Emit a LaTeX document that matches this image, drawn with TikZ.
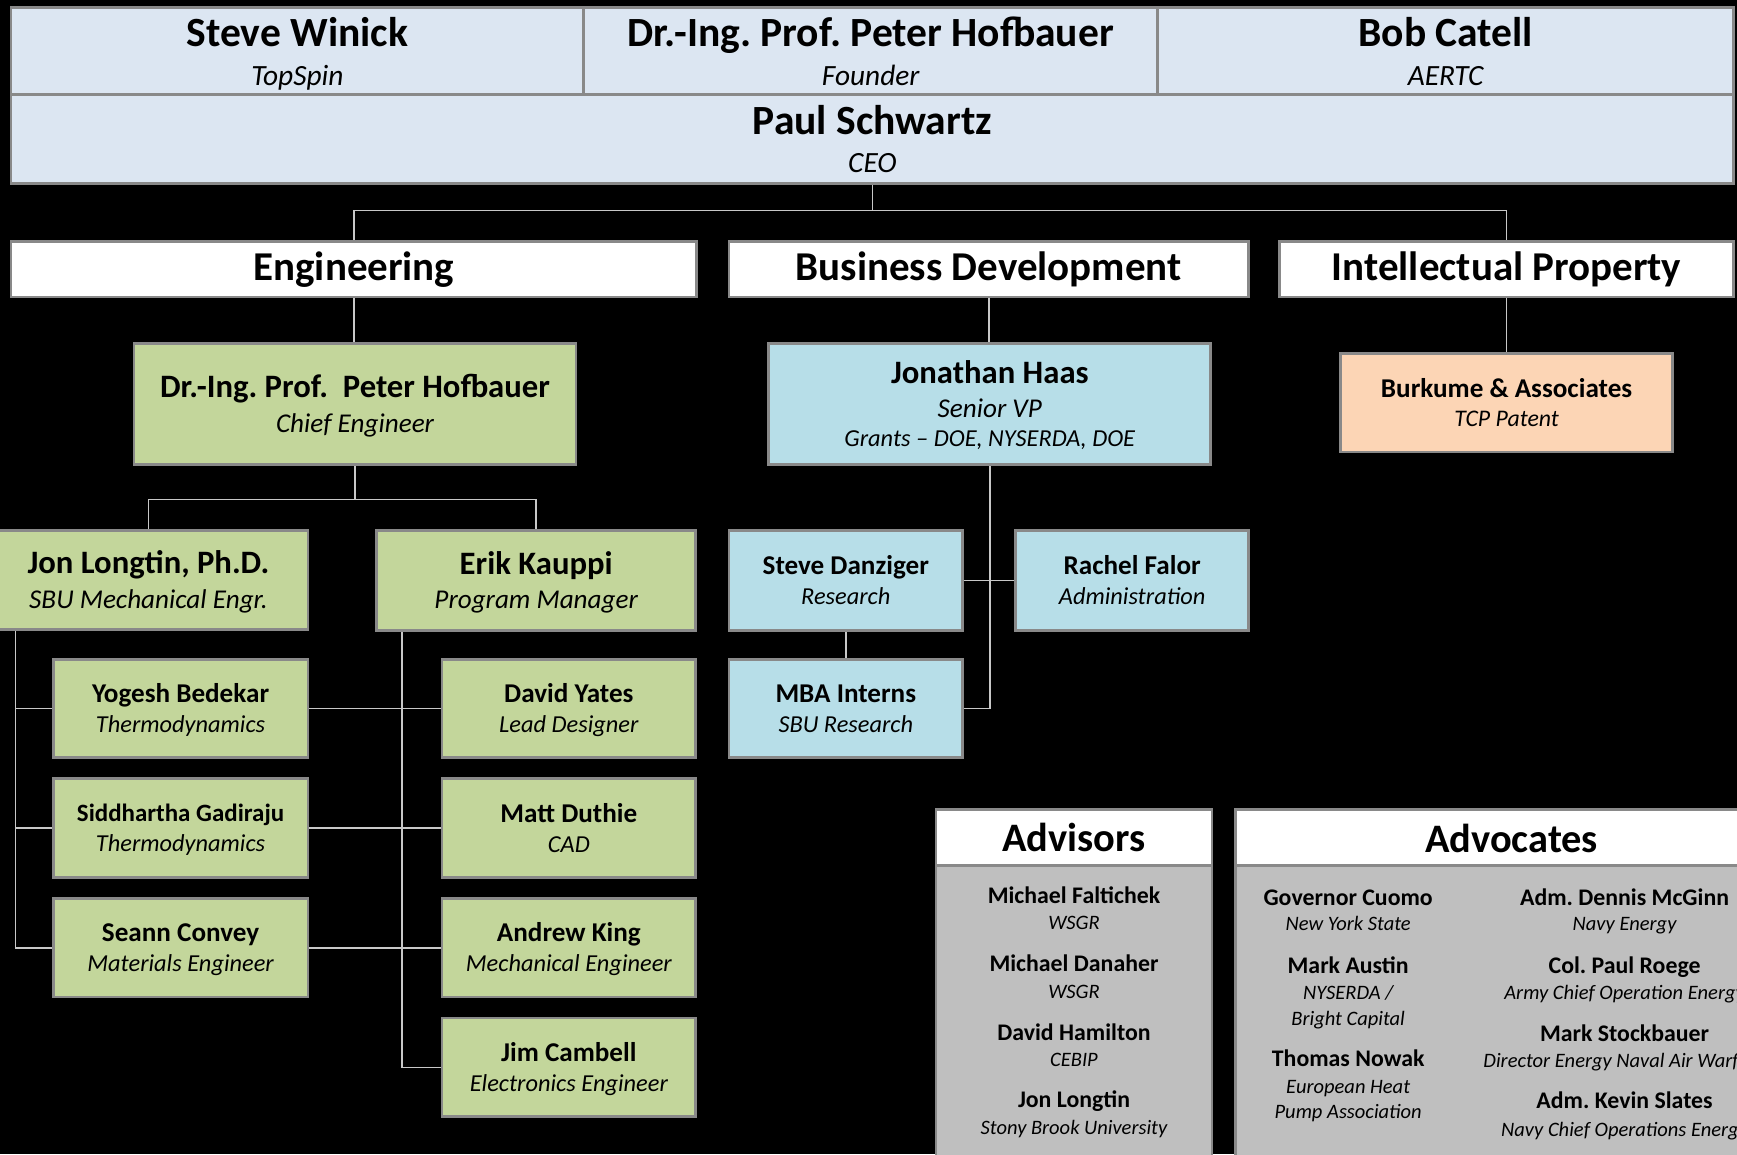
\documentclass[tikz,border=0pt]{standalone}
\usepackage{fontspec}
\setmainfont{Carlito}
\usetikzlibrary{backgrounds}
\frenchspacing

\definecolor{topfill}{HTML}{DCE6F2}
\definecolor{engfill}{HTML}{C3D69B}
\definecolor{bizfill}{HTML}{B7DEE8}
\definecolor{ipfill}{HTML}{FCD5B5}
\definecolor{panelfill}{HTML}{BFBFBF}
\definecolor{edge}{HTML}{898989}
\definecolor{wirecol}{HTML}{C8C8C8}

% name line (bold) and role line (italic) at a given size, each with a fixed strut
\newcommand\pname[2]{{\fontsize{#1}{#1}\selectfont\bfseries\rule[-0.2em]{0pt}{1.05em}#2}}
\newcommand\prole[2]{{\fontsize{#1}{#1}\selectfont\itshape\rule[-0.2em]{0pt}{1.05em}#2}}

\tikzset{
  box/.style={rectangle, draw=edge, line width=2.5pt, inner sep=0pt, outer sep=0pt, align=center},
  topbox/.style={box, fill=topfill, font=\fontsize{26}{35}\selectfont},
  head/.style={box, fill=white, font=\fontsize{37}{40}\selectfont\bfseries},
  lvlone/.style={box, font=\fontsize{24}{31}\selectfont},
  lvltwo/.style={box, font=\fontsize{22}{26.8}\selectfont},
  engbox/.style={fill=engfill},
  bizbox/.style={fill=bizfill},
  ipbox/.style={fill=ipfill},
  panel/.style={draw=edge, line width=2.5pt, fill=panelfill},
  listname/.style={font=\fontsize{21.5}{24}\selectfont\bfseries, inner sep=0pt, text height=14pt, text depth=0pt},
  listrole/.style={font=\fontsize{18.5}{20}\selectfont\itshape, inner sep=0pt, text height=12pt, text depth=0pt},
  wire/.style={draw=wirecol, line width=1.5pt},
}

\begin{document}
\begin{tikzpicture}[x=1pt,y=-1pt]
\useasboundingbox (0,0) rectangle (1568,1042);
\clip (0,0) rectangle (1568,1042);

% ---------------- board and CEO ----------------
\node[topbox, minimum width=517pt, minimum height=78pt] (winick) at (268.5,46)
  {\pname{37.5}{Steve Winick}\\\prole{26.5}{TopSpin}};
\node[topbox, minimum width=518pt, minimum height=78pt] (founder) at (786,46)
  {\pname{37.5}{Dr.-Ing. Prof. Peter Hofbauer}\\\prole{26.5}{Founder}};
\node[topbox, minimum width=520pt, minimum height=78pt] (catell) at (1305,46)
  {\pname{37.5}{Bob Catell}\\\prole{26.5}{AERTC}};
\node[topbox, font=\fontsize{26}{34}\selectfont, minimum width=1555pt, minimum height=80pt] (paul) at (787.5,125.5)
  {\pname{37.5}{Paul Schwartz}\\\prole{26.5}{CEO}};

% ---------------- departments ----------------
\node[head, minimum width=619pt, minimum height=50pt] (eng) at (319.5,243) {Engineering};
\node[head, minimum width=469pt, minimum height=50pt] (bd) at (892.5,243) {Business Development};
\node[head, minimum width=410pt, minimum height=50pt] (ip) at (1360,243) {Intellectual Property};

% ---------------- engineering ----------------
\node[lvlone, engbox, minimum width=399pt, minimum height=109pt] (chief) at (320.5,364.5)
  {\pname{29.5}{Dr.-Ing. Prof.\ \ Peter Hofbauer}\\\prole{24.5}{Chief Engineer}};
\node[lvlone, engbox, minimum width=288pt, minimum height=89pt] (jon) at (134,523.5)
  {\pname{29.5}{Jon Longtin, Ph.D.}\\\prole{24.5}{SBU Mechanical Engr.}};
\node[lvlone, engbox, minimum width=288pt, minimum height=90pt] (erik) at (484,524)
  {\pname{29.5}{Erik Kauppi}\\\prole{24.5}{Program Manager}};

\node[lvltwo, engbox, minimum width=230pt, minimum height=89pt] (yogesh) at (163,639.5)
  {\pname{24.5}{Yogesh Bedekar}\\\prole{22}{Thermodynamics}};
\node[lvltwo, engbox, minimum width=230pt, minimum height=89pt] (sidd) at (163,747.5)
  {\pname{22.5}{Siddhartha Gadiraju}\\\prole{22}{Thermodynamics}};
\node[lvltwo, engbox, minimum width=230pt, minimum height=89pt] (seann) at (163,855.5)
  {\pname{24.5}{Seann Convey}\\\prole{22}{Materials Engineer}};

\node[lvltwo, engbox, minimum width=229pt, minimum height=89pt] (yates) at (513.5,639.5)
  {\pname{24.5}{David Yates}\\\prole{22}{Lead Designer}};
\node[lvltwo, engbox, minimum width=229pt, minimum height=89pt] (duthie) at (513.5,747.5)
  {\pname{24.5}{Matt Duthie}\\\prole{22}{CAD}};
\node[lvltwo, engbox, minimum width=229pt, minimum height=89pt] (king) at (513.5,855.5)
  {\pname{24.5}{Andrew King}\\\prole{22}{Mechanical Engineer}};
\node[lvltwo, engbox, minimum width=229pt, minimum height=89pt] (cambell) at (513.5,963.5)
  {\pname{24.5}{Jim Cambell}\\\prole{22}{Electronics Engineer}};

% ---------------- business development ----------------
\node[lvlone, bizbox, minimum width=399pt, minimum height=109pt] (haas) at (893.5,364.5)
  {\pname{29.5}{Jonathan Haas}\\\prole{24.5}{Senior VP}\\[-4.7pt]\prole{22}{Grants – DOE, NYSERDA, DOE}};
\node[lvltwo, bizbox, minimum width=211pt, minimum height=90pt] (danz) at (763.5,524)
  {\pname{24.5}{Steve Danziger}\\\prole{22}{Research}};
\node[lvltwo, bizbox, minimum width=210pt, minimum height=90pt] (falor) at (1022,524)
  {\pname{24.5}{Rachel Falor}\\\prole{22}{Administration}};
\node[lvltwo, bizbox, minimum width=211pt, minimum height=89pt] (mba) at (763.5,639.5)
  {\pname{24.5}{MBA Interns}\\\prole{22}{SBU Research}};

% ---------------- intellectual property ----------------
\node[lvltwo, ipbox, font=\fontsize{21.5}{26.6}\selectfont, minimum width=300pt, minimum height=89pt] (burk) at (1360,363.5)
  {\pname{24.5}{Burkume \& Associates}\\\prole{21.5}{TCP Patent}};

% ---------------- advisors panel ----------------
\draw[panel] (845,781) rectangle (1094,1060);
\node[head, font=\fontsize{36.5}{40}\selectfont\bfseries, minimum width=249pt, minimum height=50pt] (advisors) at (969.5,756) {Advisors};
\node[listname] (faltichek) at (969.5,808.5) {Michael Faltichek};
\node[listrole] (faltichekrole) at (969.5,833) {WSGR};
\node[listname] (danaher) at (969.5,870) {Michael Danaher};
\node[listrole] (danaherrole) at (969.5,895) {WSGR};
\node[listname] (hamilton) at (969.5,932) {David Hamilton};
\node[listrole] (hamiltonrole) at (969.5,956.5) {CEBIP};
\node[listname] (longtin) at (969.5,993) {Jon Longtin};
\node[listrole] (longtinrole) at (969.5,1018.5) {Stony Brook University};

% ---------------- advocates panel ----------------
\draw[panel] (1115,781) rectangle (1600,1060);
\node[head, font=\fontsize{36.5}{40}\selectfont\bfseries, minimum width=485pt, minimum height=50pt] (advocatesbar) at (1357.5,756) {};
\node[font=\fontsize{36.5}{40}\selectfont\bfseries, inner sep=0pt] (advocates) at (1364.5,757) {Advocates};

\node[listname] (cuomo) at (1217,810) {Governor Cuomo};
\node[listrole] (cuomorole) at (1217,834) {New York State};
\node[listname] (austin) at (1217,871.5) {Mark Austin};
\node[listrole] (austinrole) at (1217,896) {NYSERDA /};
\node[listrole] (austinrole2) at (1217,920) {Bright Capital};
\node[listname] (nowak) at (1217,955.5) {Thomas Nowak};
\node[listrole] (nowakrole) at (1217,981.5) {European Heat};
\node[listrole] (nowakrole2) at (1217,1004) {Pump Association};

\node[listname] (mcginn) at (1466.5,810) {Adm. Dennis McGinn};
\node[listrole] (mcginnrole) at (1466.5,834) {Navy Energy};
\node[listname] (roege) at (1466.5,872) {Col. Paul Roege};
\node[listrole] (roegerole) at (1466.5,896) {Army Chief Operation Energy};
\node[listname] (stockbauer) at (1466.5,933) {Mark Stockbauer};
\node[listrole] (stockbauerrole) at (1466.5,958) {Director Energy Naval Air Warfare};
\node[listname] (slates) at (1466.5,994) {Adm. Kevin Slates};
\node[listrole] (slatesrole) at (1466.5,1020) {Navy Chief Operations Energy};

% ---------------- connectors ----------------
\begin{pgfonlayer}{background}
\fill[black] (0,0) rectangle (1568,1042);
\draw[wire] (paul.south) -- ++(0,25);
\draw[wire] (eng.north) -- ++(0,-28) -| (ip.north);
\draw[wire] (eng.south) -- (eng.south |- chief.north);
\draw[wire] (chief.south) -- ++(0,32);
\draw[wire] (jon.north) |- ([yshift=-32pt]chief.south) -| (erik.north);
% Jon Longtin's reports
\coordinate (jonbus) at ([xshift=24pt]jon.south west);
\draw[wire] (jonbus) |- (seann.west);
\draw[wire] (yogesh.west) -- (yogesh.west -| jonbus);
\draw[wire] (sidd.west) -- (sidd.west -| jonbus);
% Erik Kauppi's reports
\coordinate (erikbus) at ([xshift=23pt]erik.south west);
\draw[wire] (erikbus) |- (cambell.west);
\draw[wire] (yogesh.east) -- (yates.west);
\draw[wire] (sidd.east) -- (duthie.west);
\draw[wire] (seann.east) -- (king.west);
% business development
\draw[wire] (bd.south) -- (bd.south |- haas.north);
\draw[wire] (haas.south) |- (mba.east);
\draw[wire] (danz.east) -- (falor.west);
\draw[wire] (danz.south) -- (mba.north);
% intellectual property
\draw[wire] (ip.south) -- (burk.north);
\end{pgfonlayer}
\end{tikzpicture}
\end{document}
